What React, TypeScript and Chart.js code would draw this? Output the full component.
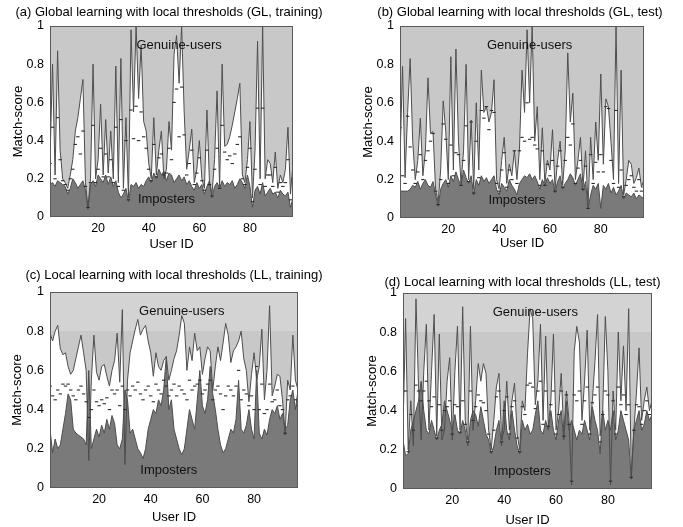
import React, { useEffect, useRef } from "react";
import { Chart, registerables } from "chart.js";

Chart.register(...registerables);

const FONT = "'Liberation Sans', Arial, Helvetica, sans-serif";

// ---------- axes ----------
const X_MIN = 1;
const X_MAX = 97;
const X_TICKS = [20, 40, 60, 80];
const X_TICK_LABELS = ["20", "40", "60", "80"];
const Y_TICKS = [0, 0.2, 0.4, 0.6, 0.8, 1];
const Y_TICK_LABELS = ["0", "0.2", "0.4", "0.6", "0.8", "1"];
const X_TITLE = "User ID";
const Y_TITLE = "Match-score";

// ---------- region labels (data coordinates) ----------
const GENUINE_LABEL = "Genuine-users";
const IMPOSTER_LABEL = "Imposters";
const GENUINE_LABEL_AT = [52, 0.9];
const IMPOSTER_LABEL_AT = [47, 0.09];

// ---------- titles ----------
const TITLE_A = "(a) Global learning with local thresholds (GL, training)";
const TITLE_B = "(b) Global learning with local thresholds (GL, test)";
const TITLE_C = "(c) Local learning with local thresholds (LL, training)";
const TITLE_D = "(d) Local learning with local thresholds (LL, test)";

// ---------- (a) GL, training : users 1..97 ----------
const GL_TRAIN_GENUINE = [
  0.30, 0.80, 0.22, 0.87, 0.35, 0.20, 0.18, 0.15, 0.22, 0.30,
  0.45, 0.52, 0.62, 0.72, 0.18, 0.05, 0.20, 0.80, 0.20, 0.30,
  0.59, 0.22, 0.51, 0.23, 0.45, 0.20, 0.79, 0.18, 0.83, 0.15,
  0.52, 0.10, 0.98, 0.55, 1.00, 0.62, 0.90, 0.50, 0.45, 0.28,
  0.20, 0.52, 0.22, 0.35, 0.45, 0.20, 0.25, 0.50, 0.35, 0.85,
  0.95, 0.70, 1.00, 0.55, 0.25, 0.35, 0.46, 0.18, 0.25, 0.40,
  0.20, 0.15, 0.56, 0.18, 0.12, 0.30, 0.66, 0.15, 0.80, 0.37,
  0.38, 0.42, 0.48, 0.55, 0.62, 0.70, 0.22, 0.18, 0.30, 0.50,
  0.10, 0.35, 0.92, 0.20, 1.00, 0.20, 0.30, 0.28, 0.18, 0.34,
  0.15, 0.22, 0.18, 0.25, 0.47, 0.12, 0.28,
];
const GL_TRAIN_IMPOSTER = [
  0.17, 0.18, 0.16, 0.19, 0.18, 0.17, 0.16, 0.12, 0.15, 0.20,
  0.18, 0.15, 0.17, 0.19, 0.14, 0.04, 0.17, 0.19, 0.16, 0.22,
  0.20, 0.18, 0.22, 0.17, 0.21, 0.16, 0.19, 0.13, 0.10, 0.12,
  0.15, 0.08, 0.17, 0.16, 0.18, 0.15, 0.17, 0.16, 0.19, 0.21,
  0.18, 0.23, 0.20, 0.25, 0.22, 0.24, 0.19, 0.23, 0.22, 0.18,
  0.20, 0.22, 0.19, 0.21, 0.17, 0.19, 0.16, 0.14, 0.18, 0.15,
  0.17, 0.12, 0.16, 0.19, 0.10, 0.16, 0.18, 0.15, 0.19, 0.16,
  0.18, 0.17, 0.19, 0.15, 0.17, 0.20, 0.18, 0.15, 0.22, 0.16,
  0.05, 0.14, 0.16, 0.12, 0.18, 0.11, 0.13, 0.15, 0.12, 0.13,
  0.10, 0.14, 0.12, 0.11, 0.13, 0.05, 0.10,
];
const GL_TRAIN_THRESHOLD = [
  0.28, 0.47, 0.20, 0.52, 0.30, 0.19, 0.17, 0.14, 0.20, 0.25,
  0.38, 0.42, 0.33, 0.45, 0.16, 0.05, 0.18, 0.48, 0.18, 0.25,
  0.36, 0.21, 0.33, 0.21, 0.30, 0.18, 0.47, 0.16, 0.51, 0.14,
  0.40, 0.09, 0.56, 0.41, 0.58, 0.40, 0.55, 0.42, 0.36, 0.25,
  0.19, 0.38, 0.21, 0.31, 0.33, 0.22, 0.23, 0.36, 0.30, 0.60,
  0.67, 0.42, 0.68, 0.43, 0.22, 0.28, 0.35, 0.17, 0.23, 0.31,
  0.19, 0.14, 0.35, 0.17, 0.11, 0.25, 0.36, 0.15, 0.48, 0.34,
  0.30, 0.32, 0.28, 0.33, 0.38, 0.42, 0.20, 0.17, 0.26, 0.36,
  0.08, 0.25, 0.57, 0.17, 0.57, 0.16, 0.22, 0.22, 0.16, 0.26,
  0.13, 0.18, 0.16, 0.18, 0.30, 0.09, 0.20,
];

// ---------- (b) GL, test ----------
const GL_TEST_GENUINE = [
  0.30, 0.79, 0.21, 0.55, 0.83, 0.40, 0.20, 0.30, 0.52, 0.22,
  0.35, 0.73, 0.44, 0.45, 0.15, 0.08, 0.25, 0.61, 0.45, 0.20,
  0.84, 0.25, 0.88, 0.40, 0.18, 0.35, 0.80, 0.20, 0.51, 0.15,
  0.60, 0.25, 0.77, 0.55, 0.58, 0.50, 0.55, 0.72, 0.20, 0.15,
  0.30, 0.42, 0.18, 0.28, 0.22, 0.35, 0.20, 0.36, 0.77, 0.55,
  0.98, 0.60, 1.00, 0.40, 0.58, 0.20, 0.47, 0.18, 0.30, 0.25,
  0.46, 0.15, 0.30, 0.40, 0.17, 0.35, 0.86, 0.50, 0.65, 0.20,
  0.30, 0.42, 0.16, 0.35, 0.06, 0.42, 0.20, 0.50, 0.30, 0.75,
  0.28, 0.62, 0.58, 0.40, 0.20, 1.00, 0.18, 0.77, 0.12, 0.20,
  0.30, 0.28, 0.18, 0.21, 0.26, 0.16, 0.20,
];
const GL_TEST_IMPOSTER = [
  0.14, 0.14, 0.14, 0.14, 0.15, 0.17, 0.16, 0.19, 0.15, 0.18,
  0.20, 0.17, 0.16, 0.19, 0.12, 0.06, 0.15, 0.18, 0.20, 0.16,
  0.22, 0.19, 0.24, 0.20, 0.17, 0.25, 0.21, 0.18, 0.22, 0.12,
  0.20, 0.17, 0.22, 0.19, 0.21, 0.18, 0.20, 0.22, 0.15, 0.12,
  0.18, 0.16, 0.14, 0.20, 0.17, 0.15, 0.12, 0.18, 0.20, 0.22,
  0.21, 0.23, 0.20, 0.22, 0.19, 0.15, 0.20, 0.17, 0.21, 0.18,
  0.20, 0.13, 0.19, 0.22, 0.15, 0.18, 0.20, 0.23, 0.21, 0.17,
  0.20, 0.23, 0.14, 0.19, 0.05, 0.12, 0.17, 0.15, 0.18, 0.05,
  0.17, 0.15, 0.18, 0.13, 0.16, 0.12, 0.14, 0.17, 0.10, 0.13,
  0.12, 0.11, 0.13, 0.10, 0.12, 0.11, 0.10,
];
const GL_TEST_THRESHOLD = [
  0.47, 0.22, 0.18, 0.53, 0.37, 0.25, 0.18, 0.24, 0.33, 0.20,
  0.30, 0.35, 0.40, 0.44, 0.14, 0.07, 0.20, 0.49, 0.41, 0.18,
  0.38, 0.22, 0.34, 0.33, 0.17, 0.30, 0.48, 0.19, 0.50, 0.13,
  0.40, 0.21, 0.56, 0.52, 0.58, 0.46, 0.56, 0.55, 0.18, 0.14,
  0.25, 0.34, 0.16, 0.25, 0.20, 0.35, 0.18, 0.35, 0.42, 0.40,
  0.60, 0.41, 0.42, 0.38, 0.36, 0.17, 0.35, 0.17, 0.28, 0.22,
  0.30, 0.14, 0.27, 0.35, 0.16, 0.30, 0.42, 0.38, 0.49, 0.18,
  0.26, 0.30, 0.15, 0.27, 0.05, 0.33, 0.18, 0.29, 0.24, 0.33,
  0.24, 0.58, 0.57, 0.30, 0.18, 0.56, 0.16, 0.25, 0.11, 0.17,
  0.20, 0.22, 0.16, 0.14, 0.20, 0.14, 0.16,
];

// ---------- (c) LL, training ----------
const LL_TRAIN_GENUINE = [
  0.79, 0.75, 0.80, 0.83, 0.71, 0.68, 0.69, 0.62, 0.58, 0.60,
  0.66, 0.72, 0.78, 0.69, 0.60, 0.14, 0.55, 0.78, 0.59, 0.55,
  0.62, 0.63, 0.57, 0.52, 0.60, 0.65, 0.79, 0.54, 0.91, 0.12,
  0.55, 0.69, 0.75, 0.81, 0.86, 0.78, 0.81, 0.83, 0.75, 0.69,
  0.57, 0.69, 0.62, 0.60, 0.65, 0.67, 0.55, 0.60, 0.66, 0.70,
  0.78, 0.88, 0.84, 0.60, 0.72, 0.65, 0.79, 0.70, 0.72, 0.58,
  0.66, 0.72, 0.70, 0.50, 0.62, 0.72, 0.65, 0.74, 0.84, 0.78,
  0.64, 0.70, 0.72, 0.75, 0.80, 0.66, 0.60, 0.44, 0.58, 0.69,
  0.55, 0.62, 0.81, 0.45, 0.60, 0.93, 0.47, 0.52, 0.58, 0.57,
  0.45, 0.27, 0.55, 0.50, 0.78, 0.55, 0.50,
];
const LL_TRAIN_IMPOSTER = [
  0.30, 0.18, 0.25, 0.20, 0.22, 0.30, 0.38, 0.48, 0.45, 0.30,
  0.28, 0.27, 0.26, 0.25, 0.22, 0.60, 0.20, 0.25, 0.30, 0.26,
  0.32, 0.28, 0.35, 0.30, 0.37, 0.33, 0.22, 0.20, 0.25, 0.50,
  0.45, 0.28, 0.30, 0.25, 0.20, 0.18, 0.15, 0.20, 0.30, 0.35,
  0.40, 0.38, 0.45, 0.42, 0.50, 0.67, 0.40, 0.45, 0.30, 0.25,
  0.20, 0.17, 0.20, 0.30, 0.40, 0.35, 0.30, 0.45, 0.60, 0.42,
  0.38, 0.45, 0.62, 0.48, 0.40, 0.30, 0.22, 0.18, 0.20, 0.25,
  0.30, 0.28, 0.35, 0.55, 0.30, 0.28, 0.32, 0.40, 0.30, 0.25,
  0.60, 0.28, 0.25, 0.30, 0.27, 0.35, 0.40, 0.38, 0.42, 0.35,
  0.38, 0.30, 0.32, 0.45, 0.50, 0.40, 0.50,
];
const LL_TRAIN_THRESHOLD = [
  0.52, 0.47, 0.45, 0.50, 0.48, 0.53, 0.52, 0.53, 0.50, 0.47,
  0.45, 0.50, 0.52, 0.48, 0.44, 0.36, 0.40, 0.50, 0.44, 0.42,
  0.45, 0.43, 0.46, 0.40, 0.50, 0.48, 0.50, 0.42, 0.52, 0.40,
  0.50, 0.47, 0.52, 0.50, 0.54, 0.48, 0.45, 0.50, 0.52, 0.47,
  0.44, 0.53, 0.50, 0.48, 0.55, 0.52, 0.47, 0.50, 0.53, 0.47,
  0.52, 0.50, 0.48, 0.45, 0.55, 0.50, 0.52, 0.53, 0.55, 0.48,
  0.50, 0.53, 0.55, 0.45, 0.50, 0.52, 0.48, 0.40, 0.47, 0.52,
  0.50, 0.47, 0.52, 0.60, 0.45, 0.50, 0.48, 0.42, 0.47, 0.40,
  0.62, 0.40, 0.53, 0.38, 0.40, 0.53, 0.44, 0.45, 0.50, 0.42,
  0.40, 0.28, 0.45, 0.47, 0.52, 0.45, 0.42,
];

// ---------- (d) LL, test ----------
const LL_TEST_GENUINE = [
  0.30, 0.87, 0.20, 0.45, 0.22, 0.97, 0.52, 0.25, 0.60, 0.84,
  0.30, 0.60, 0.89, 0.27, 0.79, 0.25, 0.30, 0.55, 0.67, 0.25,
  0.60, 0.83, 0.30, 0.93, 0.35, 0.25, 0.83, 0.30, 0.45, 0.64,
  0.55, 0.64, 0.59, 0.30, 0.20, 0.35, 0.52, 0.59, 0.25, 0.30,
  0.55, 0.30, 0.45, 0.54, 0.28, 0.20, 0.45, 0.40, 0.69, 0.92,
  0.87, 0.43, 0.55, 0.84, 0.35, 0.78, 0.32, 0.45, 0.79, 0.30,
  0.40, 0.59, 0.28, 0.50, 0.35, 0.02, 0.70, 0.83, 0.75, 0.35,
  0.55, 0.81, 0.30, 0.45, 0.65, 0.89, 0.27, 0.40, 0.88, 0.60,
  0.02, 0.50, 0.30, 0.80, 0.45, 0.73, 0.40, 0.92, 0.07, 0.30,
  0.49, 0.72, 0.35, 0.45, 0.52, 0.40, 0.45,
];
const LL_TEST_IMPOSTER = [
  0.25, 0.17, 0.18, 0.30, 0.35, 0.40, 0.45, 0.55, 0.40, 0.30,
  0.28, 0.35, 0.30, 0.25, 0.30, 0.33, 0.45, 0.40, 0.35, 0.30,
  0.38, 0.30, 0.28, 0.35, 0.30, 0.22, 0.35, 0.40, 0.38, 0.32,
  0.42, 0.35, 0.28, 0.25, 0.18, 0.22, 0.30, 0.35, 0.22, 0.45,
  0.30, 0.25, 0.40, 0.30, 0.22, 0.18, 0.35, 0.30, 0.33, 0.28,
  0.30, 0.38, 0.45, 0.30, 0.28, 0.35, 0.30, 0.40, 0.30, 0.25,
  0.35, 0.40, 0.25, 0.45, 0.30, 0.35, 0.30, 0.25, 0.30, 0.28,
  0.35, 0.30, 0.25, 0.42, 0.35, 0.30, 0.18, 0.40, 0.30, 0.35,
  0.30, 0.40, 0.25, 0.30, 0.40, 0.35, 0.30, 0.25, 0.05, 0.30,
  0.35, 0.40, 0.30, 0.33, 0.40, 0.35, 0.38,
];
const LL_TEST_THRESHOLD = [
  0.50, 0.50, 0.19, 0.38, 0.30, 0.53, 0.50, 0.45, 0.50, 0.55,
  0.45, 0.42, 0.47, 0.26, 0.43, 0.30, 0.40, 0.42, 0.45, 0.28,
  0.43, 0.42, 0.29, 0.45, 0.33, 0.24, 0.50, 0.35, 0.42, 0.48,
  0.45, 0.44, 0.40, 0.28, 0.19, 0.30, 0.47, 0.50, 0.24, 0.40,
  0.47, 0.28, 0.42, 0.45, 0.26, 0.19, 0.42, 0.38, 0.53, 0.54,
  0.52, 0.41, 0.50, 0.55, 0.33, 0.50, 0.32, 0.43, 0.50, 0.28,
  0.38, 0.50, 0.27, 0.48, 0.33, 0.04, 0.48, 0.45, 0.50, 0.33,
  0.45, 0.52, 0.28, 0.44, 0.48, 0.52, 0.24, 0.38, 0.50, 0.48,
  0.04, 0.45, 0.28, 0.52, 0.43, 0.48, 0.38, 0.43, 0.06, 0.30,
  0.43, 0.42, 0.33, 0.40, 0.45, 0.38, 0.42,
];

// ---------- colours ----------
const GENUINE_FILL = "#c8c8c8";
const GENUINE_FILL_TOP_BAND = "#d3d3d3";
const IMPOSTER_FILL = "#7a7a7a";
const LINE_COLOR = "#4d4d4d";
const DASH_COLOR = "#2a2a2a";
const FRAME_COLOR = "#5a5a5a";
const TEXT_COLOR = "#111111";

// ---------- panel geometry (page pixels) ----------
const PANELS = [
  {
    key: "a", title: TITLE_A, genuine: GL_TRAIN_GENUINE, imposter: GL_TRAIN_IMPOSTER, threshold: GL_TRAIN_THRESHOLD,
    band: null,
    left: 0, top: 0, w: 338, h: 260, yAxisW: 50, rightW: 45, xAxisH: 43,
    titlePadTop: 4.7, titlePadBottom: 5.7, yTitlePad: 10.2, xTitlePad: 8.2,
  },
  {
    key: "b", title: TITLE_B, genuine: GL_TEST_GENUINE, imposter: GL_TEST_IMPOSTER, threshold: GL_TEST_THRESHOLD,
    band: null,
    left: 357, top: 0, w: 326, h: 260, yAxisW: 43, rightW: 39, xAxisH: 42,
    titlePadTop: 4.7, titlePadBottom: 5.7, yTitlePad: 3.2, xTitlePad: 9.2,
  },
  {
    key: "c", title: TITLE_C, genuine: LL_TRAIN_GENUINE, imposter: LL_TRAIN_IMPOSTER, threshold: LL_TRAIN_THRESHOLD,
    band: 0.8,
    left: 0, top: 260, w: 348, h: 267, yAxisW: 50, rightW: 50, xAxisH: 39,
    titlePadTop: 7.2, titlePadBottom: 9.2, yTitlePad: 9.7, xTitlePad: 2.2,
  },
  {
    key: "d", title: TITLE_D, genuine: LL_TEST_GENUINE, imposter: LL_TEST_IMPOSTER, threshold: LL_TEST_THRESHOLD,
    band: 0.8,
    left: 362, top: 260, w: 321, h: 267, yAxisW: 41, rightW: 31, xAxisH: 38,
    titlePadTop: 14.2, titlePadBottom: 3.2, yTitlePad: 2.2, xTitlePad: -0.8,
  },
];

const framePlugin = {
  id: "frame",
  afterDraw(chart: any) {
    const { ctx, chartArea: a } = chart;
    ctx.save();
    ctx.strokeStyle = FRAME_COLOR;
    ctx.lineWidth = 1;
    ctx.strokeRect(Math.round(a.left) + 0.5, Math.round(a.top) + 0.5, Math.round(a.right - a.left) - 1, Math.round(a.bottom - a.top) - 1);
    ctx.restore();
  },
};

const regionLabelPlugin = {
  id: "regionLabels",
  afterDatasetsDraw(chart: any) {
    const { ctx, scales } = chart;
    const x = scales.x;
    const y = scales.y;
    ctx.save();
    ctx.font = `13px ${FONT}`;
    ctx.fillStyle = TEXT_COLOR;
    ctx.textAlign = "center";
    ctx.textBaseline = "middle";
    ctx.fillText(GENUINE_LABEL, x.getPixelForValue(GENUINE_LABEL_AT[0]), y.getPixelForValue(GENUINE_LABEL_AT[1]));
    ctx.fillText(IMPOSTER_LABEL, x.getPixelForValue(IMPOSTER_LABEL_AT[0]), y.getPixelForValue(IMPOSTER_LABEL_AT[1]));
    ctx.restore();
  },
};

function toPoints(values: number[]) {
  return values.map((v, i) => ({ x: i + 1, y: v }));
}

function genuineFill(band: number | null) {
  return (c: any) => {
    const chart = c.chart;
    const area = chart.chartArea;
    if (band === null || !area || !chart.scales.y) return GENUINE_FILL;
    const yPix = chart.scales.y.getPixelForValue(band);
    const stop = Math.min(Math.max((yPix - area.top) / (area.bottom - area.top), 0), 1);
    const g = chart.ctx.createLinearGradient(0, area.top, 0, area.bottom);
    g.addColorStop(0, GENUINE_FILL_TOP_BAND);
    g.addColorStop(stop, GENUINE_FILL_TOP_BAND);
    g.addColorStop(stop, GENUINE_FILL);
    g.addColorStop(1, GENUINE_FILL);
    return g;
  };
}

function Panel({ spec }: { spec: any }) {
  const ref = useRef<HTMLCanvasElement>(null);
  useEffect(() => {
    if (!ref.current) return;
    const tickFont = { family: FONT, size: 12.5 };
    const titleFont = { family: FONT, size: 13 };
    const chart = new Chart(ref.current, {
      type: "line",
      data: {
        datasets: [
          {
            label: "Genuine-users",
            data: toPoints(spec.genuine),
            borderColor: LINE_COLOR,
            borderWidth: 1,
            pointRadius: 0,
            tension: 0,
            fill: "end",
            backgroundColor: genuineFill(spec.band),
            order: 3,
          },
          {
            label: "Imposters",
            data: toPoints(spec.imposter),
            borderColor: LINE_COLOR,
            borderWidth: 1,
            pointRadius: 0,
            tension: 0,
            fill: "origin",
            backgroundColor: IMPOSTER_FILL,
            order: 2,
          },
          {
            label: "Threshold",
            data: toPoints(spec.threshold),
            showLine: false,
            fill: false,
            pointStyle: "line",
            pointRadius: 1.7,
            pointBorderWidth: 1.1,
            borderColor: DASH_COLOR,
            pointBorderColor: DASH_COLOR,
            order: 1,
          },
        ],
      } as any,
      options: {
        animation: false,
        responsive: false,
        events: [],
        layout: { padding: 0 },
        plugins: {
          legend: { display: false },
          tooltip: { enabled: false },
          filler: { drawTime: "beforeDatasetsDraw" },
          title: {
            display: true,
            text: spec.title,
            color: "#000",
            font: { family: FONT, size: 13, weight: "normal" },
            padding: { top: spec.titlePadTop, bottom: spec.titlePadBottom },
          },
        },
        scales: {
          x: {
            type: "linear",
            min: X_MIN,
            max: X_MAX,
            grid: { display: false, drawTicks: false },
            border: { display: false },
            ticks: {
              autoSkip: false,
              maxRotation: 0,
              padding: 4,
              color: "#000",
              font: tickFont,
              callback: (_v: any, i: number) => X_TICK_LABELS[i],
            },
            afterBuildTicks: (s: any) => {
              s.ticks = X_TICKS.map((v) => ({ value: v }));
            },
            afterFit: (s: any) => {
              s.height = spec.xAxisH;
            },
            title: {
              display: true,
              text: X_TITLE,
              color: "#000",
              font: titleFont,
              padding: { top: 0, bottom: spec.xTitlePad },
            },
          },
          y: {
            type: "linear",
            position: "left",
            min: 0,
            max: 1,
            grid: { display: false, drawTicks: false },
            border: { display: false },
            ticks: {
              autoSkip: false,
              padding: 6,
              color: "#000",
              font: tickFont,
              callback: (_v: any, i: number) => Y_TICK_LABELS[i],
            },
            afterBuildTicks: (s: any) => {
              s.ticks = Y_TICKS.map((v) => ({ value: v }));
            },
            afterFit: (s: any) => {
              s.width = spec.yAxisW;
            },
            title: {
              display: true,
              text: Y_TITLE,
              color: "#000",
              font: titleFont,
              padding: { top: spec.yTitlePad, bottom: 0 },
            },
          },
          yRight: {
            type: "linear",
            position: "right",
            min: 0,
            max: 1,
            display: true,
            grid: { display: false, drawTicks: false },
            border: { display: false },
            ticks: { display: false },
            afterFit: (s: any) => {
              s.width = spec.rightW;
            },
          },
        },
      } as any,
      plugins: [framePlugin, regionLabelPlugin],
    });
    return () => chart.destroy();
  }, [spec]);
  return (
    <canvas
      ref={ref}
      width={spec.w}
      height={spec.h}
      style={{ position: "absolute", left: spec.left, top: spec.top, width: spec.w, height: spec.h, display: "block" }}
    />
  );
}

export default function App() {
  return (
    <div style={{ position: "absolute", left: 0, top: 0, width: 683, height: 527, background: "#fff", overflow: "hidden" }}>
      {PANELS.map((p) => (
        <Panel key={p.key} spec={p} />
      ))}
    </div>
  );
}
